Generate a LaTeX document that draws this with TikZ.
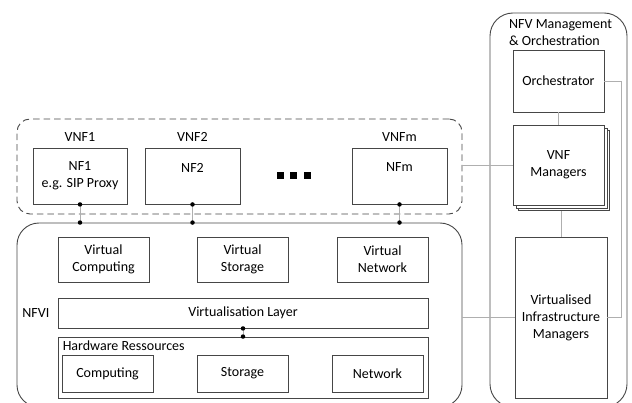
\documentclass[tikz,border=0pt]{standalone}
\usepackage{fontspec}
\setmainfont{Carlito}
\usetikzlibrary{positioning}
\definecolor{edgegray}{RGB}{70,70,70}
\definecolor{wiregray}{RGB}{175,175,175}
\tikzstyle{box} = [draw=edgegray, rectangle, align=center, inner sep=2pt, line width=0.9pt, fill=white]
\tikzstyle{group} = [draw=edgegray, rectangle, rounded corners=22pt, line width=0.9pt]
\tikzstyle{tag} = [inner sep=0pt]
\tikzstyle{link} = [draw=wiregray, line width=0.9pt]
\tikzstyle{joint} = [circle, fill=black, inner sep=0pt, minimum size=4.5pt]
\tikzstyle{more} = [rectangle, fill=black, inner sep=0pt, minimum size=7pt]

\begin{document}
\begin{tikzpicture}[x=1pt, y=-1pt, font=\fontsize{14}{17}\selectfont]
    \useasboundingbox (0,0) rectangle (632,403);

    % Groups.
    \node (mano) [group, rounded corners=23pt, minimum width=137, minimum height=394] at (558.5,210) {};
    \node (vnf group) [group, dashed, dash pattern=on 6.5pt off 4pt, rounded corners=13pt, minimum width=445, minimum height=95] at (239.5,166.5) {};
    \node (nfvi) [group, minimum width=445, minimum height=184] at (239.5,315) {};

    % Management and orchestration.
    \node (mano title) [tag, anchor=north west, align=left] at (509,19.5) {NFV Management\\\& Orchestration};
    \node (orchestrator) [box, minimum width=91, minimum height=62] at (558.5,81) {Orchestrator};
    \node (vnfm back 2) [box, minimum width=91, minimum height=80] at (564,170.5) {};
    \node (vnfm back 1) [box, minimum width=91, minimum height=80] at (561.5,168) {};
    \node (vnfm) [box, minimum width=91, minimum height=80] at (558.5,165) {VNF\\Managers};
    \node (vim) [box, minimum width=92, minimum height=161] at (561,317.5) {Virtualised\\Infrastructure\\Managers};

    % Network functions.
    \node (nf 1) [box, minimum width=94, minimum height=56] at (80,176) {NF1\\e.g. SIP Proxy};
    \node (nf 2) [box, minimum width=95, minimum height=56] at (192.5,176) {NF2\\\phantom{x}};
    \node (nf m) [box, minimum width=95, minimum height=56] at (399.5,176) {NFm\\\phantom{x}};
    \node (vnf 1) [tag, above=6pt of nf 1] {VNF1};
    \node (vnf 2) [tag, above=6pt of nf 2] {VNF2};
    \node (vnf m) [tag, above=6pt of nf m] {VNFm};
    \foreach \i in {0, 1, 2} {%
        \node (more \i) [more] at (280+13.5*\i,176) {};
    }

    % Infrastructure.
    \node (virtual computing) [box, minimum width=91, minimum height=45] at (103.5,259.5) {Virtual\\Computing};
    \node (virtual storage) [box, minimum width=91, minimum height=45] at (242.5,259.5) {Virtual\\Storage};
    \node (virtual network) [box, minimum width=91, minimum height=45] at (382.5,259.5) {Virtual\\Network};
    \node (layer) [box, minimum width=370, minimum height=30] at (243,313) {Virtualisation Layer};
    \node (nfvi label) [tag, left=8pt of layer] {NFVI};
    \node (hardware) [box, minimum width=370, minimum height=61] at (243,367.5) {};
    \node (hardware label) [tag, anchor=north west] at ([xshift=5pt, yshift=-4pt]hardware.north west) {Hardware Ressources};
    \node (computing) [box, minimum width=91, minimum height=37] at (107.5,373.5) {Computing};
    \node (storage) [box, minimum width=91, minimum height=37] at (242.5,373.5) {Storage};
    \node (network) [box, minimum width=91, minimum height=37] at (377.5,373.5) {Network};

    % Paths.

    % Functions down to the infrastructure.
    \foreach \j in {1, 2, m} {%
        \coordinate (nfvi top \j) at (nf \j.south |- nfvi.north);
        \draw [link] (nf \j.south) -- (nfvi top \j);
        \node (joint up \j) [joint] at (nf \j.south) {};
        \node (joint down \j) [joint] at (nfvi top \j) {};
    }

    % Layer to hardware.
    \draw [link] (layer.south) -- (hardware.north);
    \node (joint layer) [joint] at (layer.south) {};
    \node (joint hardware) [joint] at (hardware.north) {};

    % Management links.
    \draw [link] (vnfm.west) -- (vnfm.west -| vnf group.east);
    \draw [link] (vim.west) -- (vim.west -| nfvi.east);
    \draw [link] (orchestrator.south) -- (vnfm.north);
    \draw [link] (vim.north) -- (vim.north |- vnfm back 2.south);
    \draw [link] (orchestrator.east) -- ++(17,0) |- (vim.east);
\end{tikzpicture}
\end{document}
